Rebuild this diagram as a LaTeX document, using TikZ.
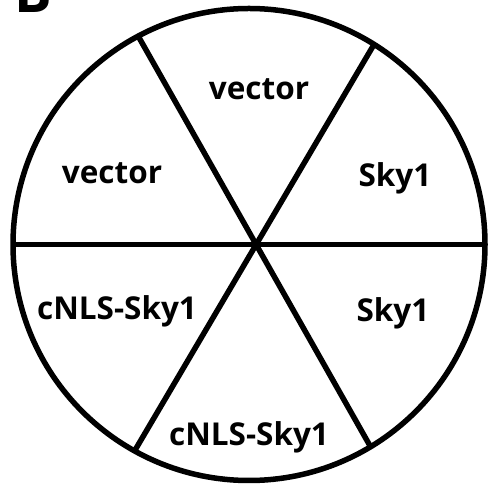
\documentclass[tikz,border=0pt]{standalone}
\usepackage{fontspec}
\setmainfont{Open Sans}
\usetikzlibrary{calc}

\begin{document}
\begin{tikzpicture}[x=1pt,y=1pt]
	\def\plateradius{236}
	\def\linewd{5.5pt}

	\tikzset{
		sector/.style = {font=\fontsize{31.5}{31.5}\selectfont\bfseries, inner sep=0pt, anchor=base},
	}

	\useasboundingbox (0,0) rectangle (490,487);

	\coordinate (Plate) at (249,242.5);

	% plate outline
	\draw[line width=\linewd] (Plate) circle (\plateradius);

	% dividing lines
	\coordinate (TL) at ($(Plate)+(118:\plateradius)$);
	\coordinate (BR) at ($(Plate)+(301:\plateradius)$);
	\coordinate (TR) at ($(Plate)+(58:\plateradius)$);
	\coordinate (BL) at ($(Plate)+(241:\plateradius)$);
	\coordinate (L) at ($(Plate)+(180:\plateradius)$);
	\coordinate (R) at ($(Plate)+(0:\plateradius)$);
	\draw[line width=\linewd] (TL) -- (BR);
	\draw[line width=\linewd] (TR) -- (BL);
	\draw[line width=\linewd] (L) -- (R);

	% labels
	\node[sector] (vecTop) at (259,387) {vector};
	\node[sector] (vecLeft) at (112,303) {vector};
	\node[sector] (skyTR) at (395,300) {Sky1};
	\node[sector] (cnlsLeft) at (117,167) {cNLS-Sky1};
	\node[sector] (skyR) at (393,165) {Sky1};
	\node[sector] (cnlsBot) at (249,41) {cNLS-Sky1};

	% panel letter
	\node[font=\fontsize{56}{56}\selectfont\bfseries, inner sep=0pt, anchor=base west] (panel) at (14,474) {B};
\end{tikzpicture}
\end{document}
